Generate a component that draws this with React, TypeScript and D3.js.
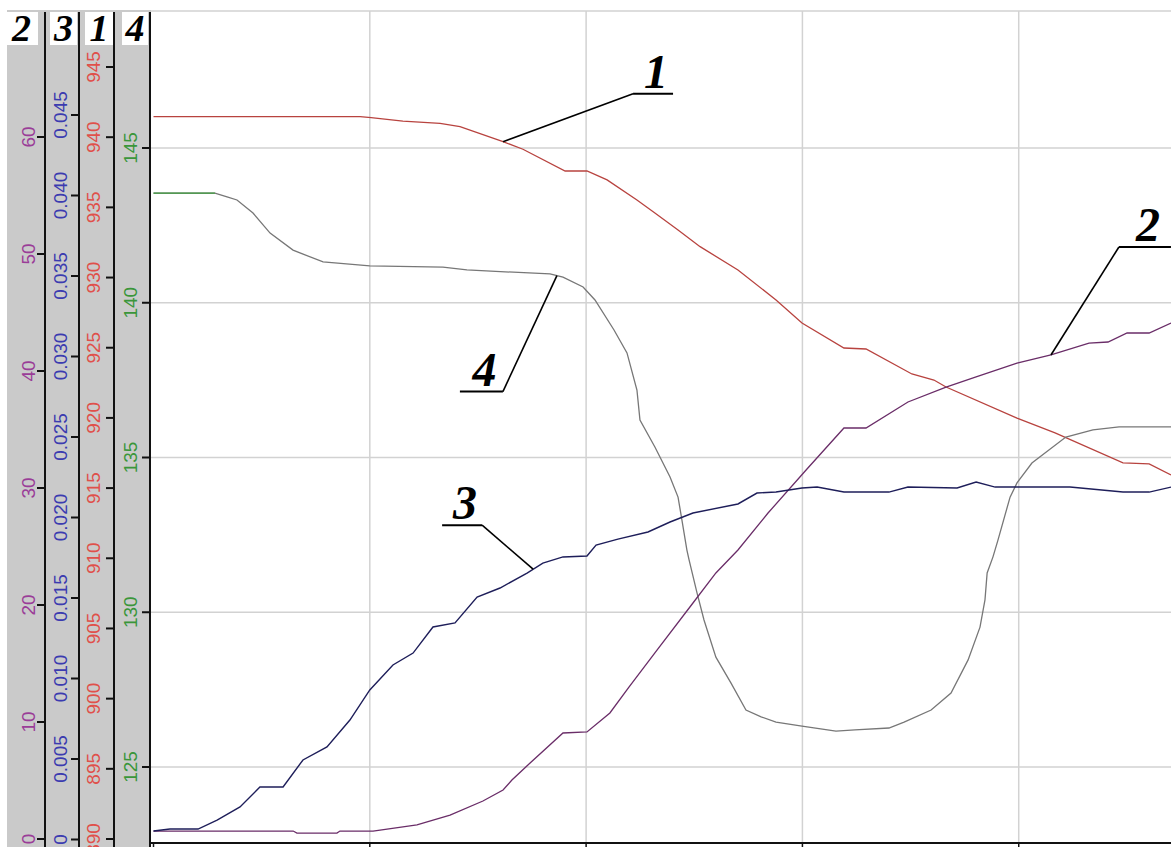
import React from 'react';
import * as d3 from 'd3';

const W = 1171;
const H = 847;

// shared horizontal (time) grid, in grid units
const gridT = [0, 1, 2, 3, 4];
const tMax = 4.704;

// axis ticks
const axis2Ticks = [0, 10, 20, 30, 40, 50, 60];
const axis3Ticks = [0, 0.005, 0.01, 0.015, 0.02, 0.025, 0.03, 0.035, 0.04, 0.045];
const axis1Ticks = [890, 895, 900, 905, 910, 915, 920, 925, 930, 935, 940, 945];
const axis4Ticks = [125, 130, 135, 140, 145];

// curve 1 (red, axis 1)
const curve1: [number, number][] = [
  [0, 941.46], [0.955, 941.46], [1.006, 941.39], [1.153, 941.15], [1.325, 940.99], [1.417, 940.75],
  [1.616, 939.68], [1.708, 939.14], [1.903, 937.59], [2.004, 937.59], [2.097, 936.96], [2.235, 935.53],
  [2.318, 934.6], [2.425, 933.39], [2.527, 932.2], [2.702, 930.54], [2.878, 928.4], [2.998, 926.76],
  [3.192, 924.98], [3.294, 924.91], [3.506, 923.13], [3.608, 922.7], [3.664, 922.2], [3.992, 919.99],
  [4.168, 918.93], [4.482, 916.79], [4.603, 916.72], [4.704, 915.93],
];

// curve 2 (purple, axis 2)
const curve2: [number, number][] = [
  [0, 0.68], [0.646, 0.68], [0.663, 0.51], [0.848, 0.51], [0.862, 0.68], [1.015, 0.68], [1.218, 1.2],
  [1.371, 2.05], [1.523, 3.25], [1.616, 4.19], [1.657, 5.04], [1.741, 6.5], [1.893, 9.06], [2.004, 9.15],
  [2.11, 10.77], [2.198, 12.99], [2.318, 15.9], [2.494, 20.17], [2.6, 22.74], [2.702, 24.7], [2.841, 27.86],
  [3.017, 31.54], [3.192, 35.13], [3.294, 35.13], [3.488, 37.35], [3.664, 38.63], [3.803, 39.49],
  [3.992, 40.68], [4.149, 41.37], [4.325, 42.39], [4.413, 42.48], [4.501, 43.25], [4.603, 43.25], [4.704, 44.1],
];

// curve 3 (navy, axis 3)
const curve3: [number, number][] = [
  [0, 0.00053], [0.076, 0.00065], [0.206, 0.00065], [0.294, 0.00121], [0.4, 0.00202], [0.492, 0.00326],
  [0.599, 0.00326], [0.691, 0.00494], [0.802, 0.00575], [0.908, 0.00742], [1.0, 0.00929], [1.107, 0.01084],
  [1.2, 0.01158], [1.292, 0.0132], [1.394, 0.01345], [1.496, 0.01506], [1.602, 0.01562], [1.727, 0.01655],
  [1.8, 0.01717], [1.893, 0.01755], [2.004, 0.01761], [2.046, 0.01829], [2.147, 0.01866], [2.286, 0.0191],
  [2.388, 0.01972], [2.494, 0.02028], [2.702, 0.02084], [2.79, 0.02152], [2.878, 0.02158], [2.998, 0.02183],
  [3.068, 0.02189], [3.192, 0.02158], [3.4, 0.02158], [3.488, 0.02189], [3.715, 0.02183], [3.803, 0.0222],
  [3.891, 0.02189], [4.062, 0.02189], [4.237, 0.02189], [4.482, 0.02158], [4.603, 0.02158], [4.704, 0.02189],
];

// curve 4 (gray, axis 4)
const curve4: [number, number][] = [
  [0, 143.54], [0.284, 143.54], [0.34, 143.42], [0.386, 143.32], [0.46, 142.9], [0.539, 142.25],
  [0.645, 141.7], [0.677, 141.61], [0.784, 141.32], [1.0, 141.19], [1.338, 141.15], [1.449, 141.06],
  [1.833, 140.93], [1.893, 140.83], [1.986, 140.51], [2.041, 140.09], [2.129, 139.12], [2.189, 138.38],
  [2.235, 137.18], [2.249, 136.21], [2.318, 135.34], [2.388, 134.37], [2.425, 133.72], [2.443, 132.98],
  [2.466, 132.01], [2.476, 131.69], [2.513, 130.62], [2.545, 129.75], [2.6, 128.55], [2.67, 127.71],
  [2.739, 126.84], [2.809, 126.62], [2.878, 126.45], [2.998, 126.32], [3.155, 126.16], [3.243, 126.2],
  [3.4, 126.26], [3.47, 126.45], [3.595, 126.84], [3.687, 127.39], [3.766, 128.46], [3.821, 129.52],
  [3.844, 130.4], [3.854, 131.27], [3.881, 131.79], [3.904, 132.33], [3.96, 133.72], [3.992, 134.18],
  [4.061, 134.82], [4.218, 135.66], [4.343, 135.89], [4.464, 135.99], [4.704, 135.99],
];
const curve4GreenEnd = 0.284;

// layout
const plotLeft = 151;
const plotRight = W;
const plotTop = 11;
const plotBottom = 843;

const x = d3.scaleLinear().domain([0, tMax]).range([153.5, 1171]);
const y1 = d3.scaleLinear().domain([890, 945]).range([839, 67]);
const y2 = d3.scaleLinear().domain([0, 60]).range([839, 137]);
const y3 = d3.scaleLinear().domain([0, 0.045]).range([839.5, 115]);
const y4 = d3.scaleLinear().domain([125, 145]).range([767, 148]);

const axes = [
  { name: '2', lineX: 45, labelX: 28, color: '#9a3d98', ticks: axis2Ticks, scale: y2, fmt: (v: number) => String(v), box: [5, 38] },
  { name: '3', lineX: 79, labelX: 60, color: '#3b3bb0', ticks: axis3Ticks, scale: y3, fmt: (v: number) => (v === 0 ? '0' : v.toFixed(3)), box: [50, 77] },
  { name: '1', lineX: 114, labelX: 93, color: '#e0504a', ticks: axis1Ticks, scale: y1, fmt: (v: number) => String(v), box: [85, 113] },
  { name: '4', lineX: 150, labelX: 130, color: '#3a963a', ticks: axis4Ticks, scale: y4, fmt: (v: number) => String(v), box: [122, 148] },
];

function interp(data: [number, number][], t: number): number {
  for (let i = 0; i < data.length - 1; i++) {
    const [t0, v0] = data[i];
    const [t1, v1] = data[i + 1];
    if (t >= t0 && t <= t1) return v0 + ((t - t0) / (t1 - t0)) * (v1 - v0);
  }
  return data[data.length - 1][1];
}

const annotations = [
  { label: '1', data: curve1, scale: y1, t: 1.616, dx: 130, dy: -48, ul: 40 },
  { label: '2', data: curve2, scale: y2, t: 4.149, dx: 68, dy: -108, ul: 52 },
  { label: '4', data: curve4, scale: y4, t: 1.865, dx: -54, dy: 116, ul: -43 },
  { label: '3', data: curve3, scale: y3, t: 1.755, dx: -51, dy: -44, ul: -40 },
];

export default function App() {
  const mk = (s: d3.ScaleLinear<number, number>) =>
    d3.line<[number, number]>().x((d) => x(d[0])).y((d) => s(d[1]));

  const green = curve4.filter((d) => d[0] <= curve4GreenEnd);

  return (
    <svg width={W} height={H} style={{ position: 'absolute', left: 0, top: 0, background: '#fff' }}>
      <rect x={0} y={0} width={W} height={H} fill="#fff" />
      {/* left gray panel */}
      <rect x={7} y={10} width={plotLeft - 7} height={H - 10} fill="#cacaca" />
      {/* grid */}
      <line x1={plotLeft} x2={plotRight} y1={plotTop} y2={plotTop} stroke="#d2d2d2" strokeWidth={1.5} />
      {axis4Ticks.map((v) => (
        <line key={'hg' + v} x1={plotLeft} x2={plotRight} y1={y4(v)} y2={y4(v)} stroke="#d2d2d2" strokeWidth={1.5} />
      ))}
      {gridT.filter((t) => t > 0).map((t) => (
        <line key={'vg' + t} x1={x(t)} x2={x(t)} y1={plotTop} y2={plotBottom} stroke="#d2d2d2" strokeWidth={1.5} />
      ))}
      {/* bottom axis */}
      <line x1={plotLeft} x2={plotRight} y1={plotBottom} y2={plotBottom} stroke="#111" strokeWidth={2} />
      {gridT.map((t) => (
        <line key={'bt' + t} x1={x(t)} x2={x(t)} y1={plotBottom} y2={H} stroke="#111" strokeWidth={1.5} />
      ))}
      {/* vertical axes */}
      {axes.map((a) => (
        <g key={'ax' + a.name}>
          <line x1={a.lineX} x2={a.lineX} y1={12} y2={H} stroke="#111" strokeWidth={2} />
          {a.ticks.map((v) => (
            <g key={'t' + v}>
              <line x1={a.lineX - 8} x2={a.lineX} y1={a.scale(v)} y2={a.scale(v)} stroke="#111" strokeWidth={2} />
              <text
                transform={`translate(${a.labelX},${a.scale(v)}) rotate(-90)`}
                textAnchor="middle"
                dy="0.36em"
                fontFamily="Liberation Sans, Arial, sans-serif"
                fontSize={19}
                fill={a.color}
              >
                {a.fmt(v)}
              </text>
            </g>
          ))}
          <rect x={a.box[0]} y={12} width={a.box[1] - a.box[0]} height={33} fill="#fff" />
          <text
            x={(a.box[0] + a.box[1]) / 2}
            y={41}
            textAnchor="middle"
            fontFamily="Liberation Serif, Times New Roman, serif"
            fontWeight="bold"
            fontStyle="italic"
            fontSize={38}
            fill="#000"
          >
            {a.name}
          </text>
        </g>
      ))}
      {/* curves */}
      <path d={mk(y1)(curve1) || ''} fill="none" stroke="#b8433f" strokeWidth={1.3} />
      <path d={mk(y4)(curve4) || ''} fill="none" stroke="#777" strokeWidth={1.3} />
      <path d={mk(y4)(green) || ''} fill="none" stroke="#3c9a3c" strokeWidth={1.3} />
      <path d={mk(y2)(curve2) || ''} fill="none" stroke="#6a2d68" strokeWidth={1.3} />
      <path d={mk(y3)(curve3) || ''} fill="none" stroke="#1e1e5a" strokeWidth={1.4} />
      {/* annotations */}
      {annotations.map((an) => {
        const ax = x(an.t);
        const ay = an.scale(interp(an.data, an.t));
        const ex = ax + an.dx;
        const ey = ay + an.dy;
        const ux = ex + an.ul;
        return (
          <g key={'an' + an.label}>
            <line x1={ax} y1={ay} x2={ex} y2={ey} stroke="#000" strokeWidth={1.6} />
            <line x1={ex} y1={ey} x2={ux} y2={ey} stroke="#000" strokeWidth={2} />
            <text
              x={(ex + ux) / 2 + 3}
              y={ey - 6}
              textAnchor="middle"
              fontFamily="Liberation Serif, Times New Roman, serif"
              fontWeight="bold"
              fontStyle="italic"
              fontSize={48}
              fill="#000"
            >
              {an.label}
            </text>
          </g>
        );
      })}
    </svg>
  );
}
